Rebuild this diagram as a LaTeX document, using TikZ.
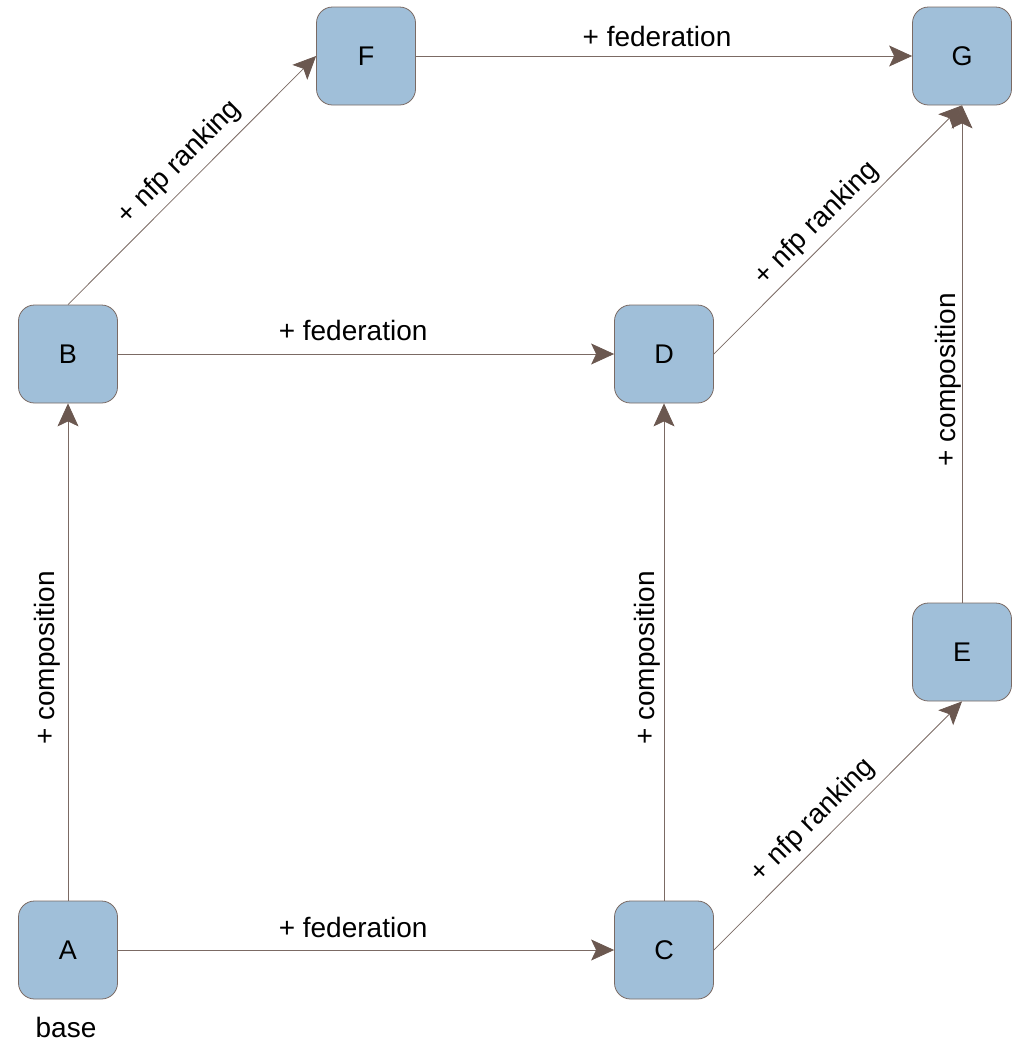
\documentclass[tikz,border=0pt]{standalone}
\usepackage{fontspec}
\setmainfont{Liberation Sans}
\usetikzlibrary{arrows.meta}
\definecolor{boxfill}{HTML}{A0BFD9}
\definecolor{boxline}{HTML}{7A6A64}
\definecolor{edgeline}{HTML}{7B6A64}
\definecolor{tipfill}{HTML}{6B5850}
\tikzset{
  stage/.style={draw=boxline, fill=boxfill, line width=0.8pt, rounded corners=16pt,
    minimum width=99pt, minimum height=98pt, inner sep=0pt, font=\fontsize{27}{32}\selectfont},
  link/.style={draw=edgeline, line width=0.8pt,
    -{Stealth[length=23pt, width=21pt, inset=5pt, fill=tipfill, color=tipfill]}},
  tag/.style={font=\fontsize{28}{32}\selectfont, sloped, inner sep=0pt}
}
\begin{document}
\begin{tikzpicture}[x=1pt, y=-1pt]
\useasboundingbox (0,0) rectangle (1015,1042);
\node[stage] (A) at (68,950) {A};
\node[stage] (B) at (68,354) {B};
\node[stage] (C) at (664,950) {C};
\node[stage] (D) at (664,354) {D};
\node[stage] (E) at (962,652) {E};
\node[stage] (F) at (366,56) {F};
\node[stage] (G) at (962,56) {G};
\node[font=\fontsize{28}{32}\selectfont, inner sep=0pt] (base) at (66,1027) {base};

\draw[link] (A.north) -- node[tag, pos=0.488, above=7pt] {+ composition} (B.south);
\draw[link] (C.north) -- node[tag, pos=0.488, above=3pt] {+ composition} (D.south);
\draw[link] (E.north) -- node[tag, pos=0.448, above=0.5pt] {+ composition} (G.south);
\draw[link] (A.east) -- node[tag, pos=0.474, above=12pt] {+ federation} (C.west);
\draw[link] (B.east) -- node[tag, pos=0.474, above=13pt] {+ federation} (D.west);
\draw[link] (F.east) -- node[tag, pos=0.486, above=9pt] {+ federation} (G.west);
\draw[link] (B.north) -- node[tag, pos=0.51, above=8pt] {+ nfp ranking} (F.west);
\draw[link] (C.east) -- node[tag, pos=0.46, above=8pt] {+ nfp ranking} (E.south);
\draw[link] (D.east) -- node[tag, pos=0.47, above=6pt] {+ nfp ranking} (G.south);
\end{tikzpicture}
\end{document}
